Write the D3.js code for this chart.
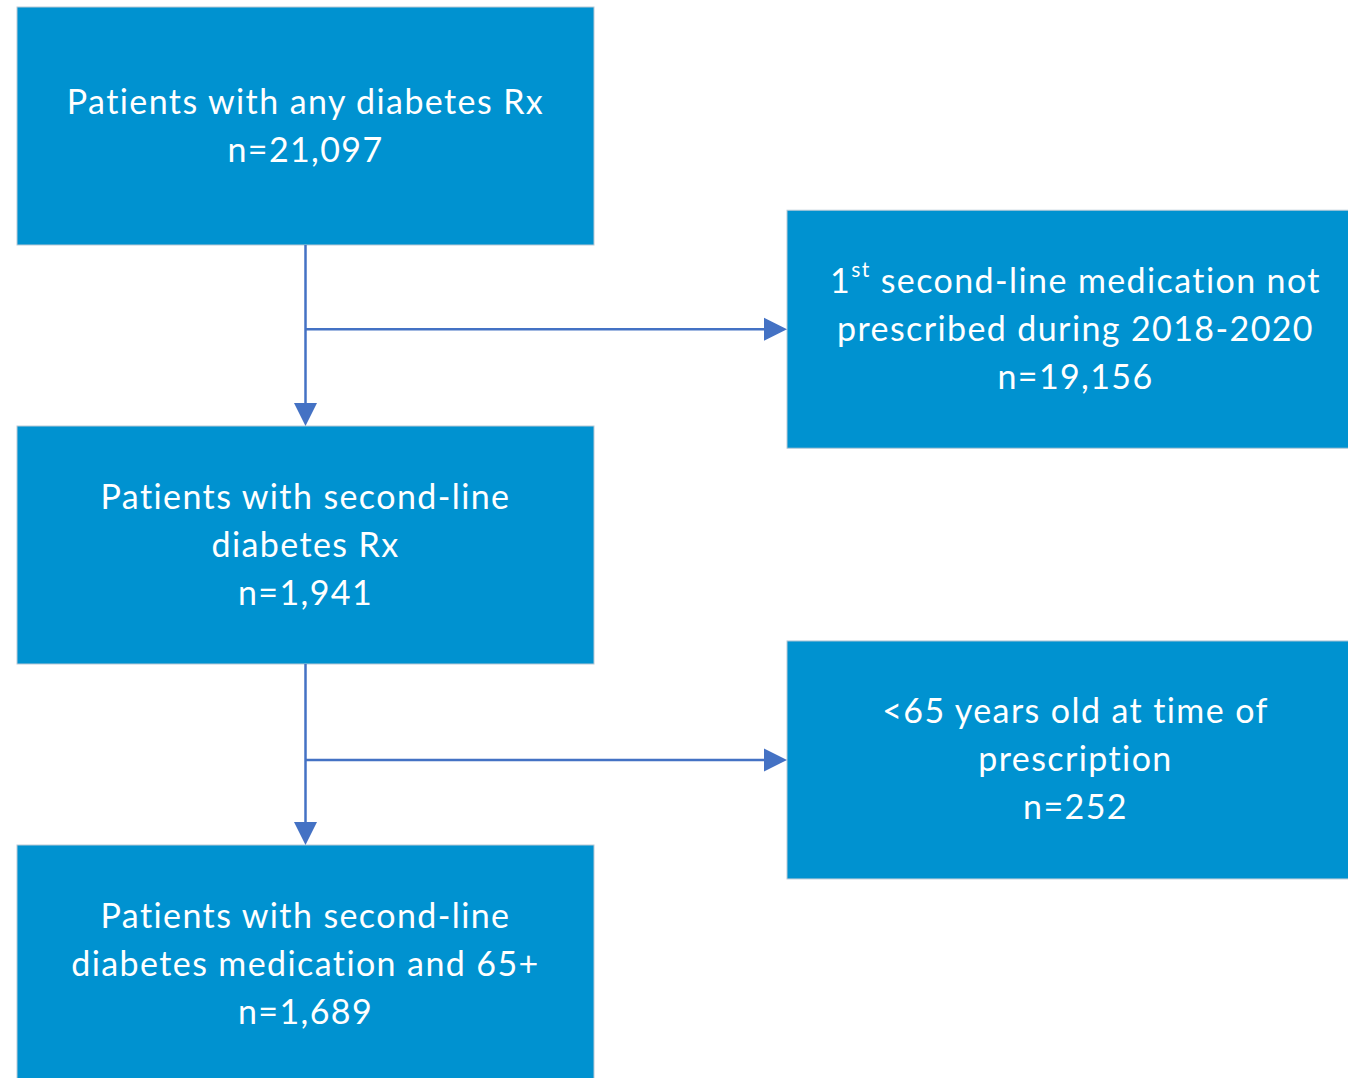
<!DOCTYPE html>
<html>
<head>
<meta charset="utf-8">
<script src="https://cdn.jsdelivr.net/npm/d3@7"></script>
<style>
  body { margin: 0; background: #fff; }
  svg { display: block; }
  .box-text { font-family: Lato, "Open Sans", sans-serif; fill: #fff; letter-spacing: 1.4px; }
</style>
</head>
<body>
<div id="flow"></div>
<script>
// main path of the cohort, top to bottom
const stepLabels = [
  ["Patients with any diabetes Rx"],
  ["Patients with second-line", "diabetes Rx"],
  ["Patients with second-line", "diabetes medication and 65+"]
];
const stepCounts = [21097, 1941, 1689];

// exclusions branching off to the right ("^" marks a superscript)
const exclusionLabels = [
  ["1^st second-line medication not", "prescribed during 2018-2020"],
  ["<65 years old at time of", "prescription"]
];
const exclusionCounts = [19156, 252];

const width = 1348, height = 1078;
const boxW = 577, boxH = 238;
const lineGap = 48, fontSize = 34;
// where each exclusion sits between two steps (fraction of a step)
const exclusionPos = [0.485, 1.513];
const fmt = d3.format(",");

const svg = d3.select("#flow").append("svg")
  .attr("width", width)
  .attr("height", height)
  .attr("viewBox", [0, 0, width, height]);

// column 0 = main path, column 1 = exclusions
const xScale = d3.scaleLinear().domain([0, 1]).range([17, 787]);
const yScale = d3.scaleLinear().domain([0, stepLabels.length - 1]).range([7, 845]);

const nodes = [
  ...stepLabels.map((lines, i) => ({
    lines: [...lines, "n=" + fmt(stepCounts[i])],
    x: xScale(0), y: yScale(i)
  })),
  ...exclusionLabels.map((lines, i) => ({
    lines: [...lines, "n=" + fmt(exclusionCounts[i])],
    x: xScale(1), y: yScale(exclusionPos[i])
  }))
];

const boxes = svg.selectAll(".box")
  .data(nodes)
  .join("g")
    .attr("class", "box")
    .attr("transform", d => `translate(${d.x}, ${d.y})`);

boxes.append("rect")
  .attr("width", boxW)
  .attr("height", boxH)
  .attr("fill", "#0092d0")
  .attr("stroke", "#b9c9d6")
  .attr("stroke-width", 1);

boxes.each(function(d) {
  const n = d.lines.length;
  const text = d3.select(this).append("text")
    .attr("class", "box-text")
    .attr("font-size", fontSize)
    .attr("text-anchor", "middle");
  d.lines.forEach((line, k) => {
    const base = boxH / 2 + (k - (n - 1) / 2) * lineGap + 11.5;
    const parts = line.split(/\^(\w+)/);
    const row = text.append("tspan").attr("x", boxW / 2).attr("y", base);
    parts.forEach((p, j) => {
      if (!p) return;
      if (j % 2 === 1) {
        row.append("tspan").attr("font-size", fontSize * 0.62).attr("dy", -16).text(p);
      } else {
        row.append("tspan").attr("dy", j > 0 ? 16 : null).text(p);
      }
    });
  });
});

// connectors
const arrowColor = "#4472c4";
const head = 23, headHalf = 11.5;
const cx = xScale(0) + boxW / 2;

const links = [];
stepLabels.slice(1).forEach((_, i) => {
  const yTop = yScale(i) + boxH, yBot = yScale(i + 1);
  links.push({ x1: cx, y1: yTop, x2: cx, y2: yBot, dir: "down" });
  const ex = yScale(exclusionPos[i]) + boxH / 2;
  links.push({ x1: cx, y1: ex, x2: xScale(1), y2: ex, dir: "right" });
});

svg.selectAll(".link")
  .data(links)
  .join("line")
    .attr("class", "link")
    .attr("x1", d => d.x1)
    .attr("y1", d => d.y1)
    .attr("x2", d => d.dir === "right" ? d.x2 - head + 1 : d.x2)
    .attr("y2", d => d.dir === "down" ? d.y2 - head + 1 : d.y2)
    .attr("stroke", arrowColor)
    .attr("stroke-width", 2.5);

svg.selectAll(".head")
  .data(links)
  .join("path")
    .attr("class", "head")
    .attr("fill", arrowColor)
    .attr("d", d => d.dir === "down"
      ? `M${d.x2},${d.y2}L${d.x2 - headHalf},${d.y2 - head}L${d.x2 + headHalf},${d.y2 - head}Z`
      : `M${d.x2},${d.y2}L${d.x2 - head},${d.y2 - headHalf}L${d.x2 - head},${d.y2 + headHalf}Z`);
</script>
</body>
</html>
